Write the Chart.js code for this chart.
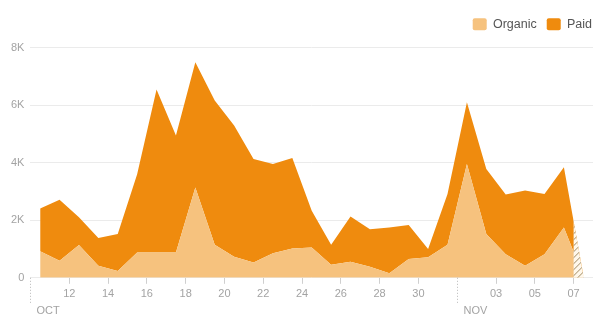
<!DOCTYPE html>
<html>
<head>
<meta charset="utf-8">
<script src="https://cdn.jsdelivr.net/npm/chart.js@4/dist/chart.umd.min.js"></script>
<style>
  html, body { margin: 0; padding: 0; background: #fff; }
  #wrap { width: 606px; height: 333px; position: relative; }
</style>
</head>
<body>
<div id="wrap"><canvas id="chart"></canvas></div>
<script>
// Daily values, Oct 10 .. Nov 7 (one point per day, drawn at mid-day)
const days = ['10','11','12','13','14','15','16','17','18','19','20','21','22','23','24','25','26','27','28','29','30','31',
              '01','02','03','04','05','06','07'];
const organic = [920, 590, 1140, 420, 240, 880, 880, 880, 3140, 1150, 730, 530, 850, 1020, 1050, 450, 560, 380, 160, 650, 710, 1150,
                 3950, 1520, 820, 420, 820, 1750, 50];
const paid = [1490, 2120, 960, 960, 1280, 2720, 5660, 4060, 4350, 5010, 4560, 3600, 3100, 3140, 1280, 700, 1570, 1310, 1590, 1180, 290, 1760,
              2150, 2260, 2070, 2610, 2090, 2090, 50];

// axis ticks (day offsets from Oct 10) and their labels
const xTicks = [2, 4, 6, 8, 10, 12, 14, 16, 18, 20, 24, 26, 28];
const xTickLabels = ['12', '14', '16', '18', '20', '22', '24', '26', '28', '30', '03', '05', '07'];
const months = ['OCT', 'NOV'];
const monthStarts = [0, 22];
const yTicks = [0, 2000, 4000, 6000, 8000];
const yTickLabels = ['0', '2K', '4K', '6K', '8K'];
const partialFrom = 28; // last day is incomplete (hatched)

const ORGANIC = '#f6c27e';
const PAID = '#ef8b0e';
const TICK = '#a3a3a3';
const FONT = '"Liberation Sans", Arial, sans-serif';

const toPoints = arr => arr.map((v, i) => ({ x: i + 0.5, y: v }));

// extra room under the legend
const legendGap = {
    id: 'legendGap',
    beforeInit(chart) {
        const fit = chart.legend.fit;
        chart.legend.fit = function () {
            fit.call(this);
            this.height += 7;
        };
    }
};

// dotted month separators + month names under the day labels
const monthPlugin = {
    id: 'months',
    afterDraw(chart) {
        const { ctx, scales: { x, y } } = chart;
        const base = y.getPixelForValue(0);
        ctx.save();
        ctx.strokeStyle = '#b8b8b8';
        ctx.lineWidth = 1;
        ctx.setLineDash([1, 2]);
        ctx.font = '11px ' + FONT;
        ctx.fillStyle = TICK;
        ctx.textAlign = 'left';
        ctx.textBaseline = 'middle';
        monthStarts.forEach((d, i) => {
            const px = Math.round(x.getPixelForValue(d)) + 0.5;
            ctx.beginPath();
            ctx.moveTo(px, base);
            ctx.lineTo(px, base + 26);
            ctx.stroke();
            ctx.fillText(months[i], px + 6, base + 33);
        });
        ctx.restore();
    }
};

// hatched area for the incomplete last day
const hatchPlugin = {
    id: 'hatch',
    afterDatasetsDraw(chart) {
        const { ctx, chartArea, scales: { x, y } } = chart;
        const pts = chart.getDatasetMeta(1).data;
        const n = pts.length;
        const p0 = pts[n - 2], p1 = pts[n - 1];
        const xs = x.getPixelForValue(partialFrom);
        const base = y.getPixelForValue(0);
        ctx.save();
        ctx.beginPath();
        ctx.rect(xs, chartArea.top, chartArea.right - xs, base - chartArea.top);
        ctx.clip();
        ctx.beginPath();
        ctx.moveTo(p0.x, p0.y);
        ctx.lineTo(p1.x, p1.y);
        ctx.lineTo(p1.x, base);
        ctx.lineTo(p0.x, base);
        ctx.closePath();
        ctx.fillStyle = '#fff8ec';
        ctx.fill();
        ctx.clip();
        ctx.strokeStyle = '#a08a62';
        ctx.lineWidth = 1;
        ctx.beginPath();
        for (let k = base + 30; k > chartArea.top; k -= 6) {
            ctx.moveTo(xs - 2, k);
            ctx.lineTo(xs + 30, k - 32);
        }
        ctx.stroke();
        ctx.restore();
    }
};

new Chart(document.getElementById('chart'), {
    type: 'line',
    data: {
        datasets: [
            {
                label: 'Organic',
                data: toPoints(organic),
                backgroundColor: ORGANIC,
                borderColor: ORGANIC,
                borderWidth: 0,
                pointRadius: 0,
                fill: 'origin',
                tension: 0
            },
            {
                label: 'Paid',
                data: toPoints(paid),
                backgroundColor: PAID,
                borderColor: PAID,
                borderWidth: 0,
                pointRadius: 0,
                fill: '-1',
                tension: 0
            }
        ]
    },
    options: {
        responsive: true,
        maintainAspectRatio: false,
        animation: false,
        layout: { padding: { left: 5, right: 4, top: 8, bottom: 28 } },
        plugins: {
            legend: {
                position: 'top',
                align: 'end',
                labels: {
                    color: '#555',
                    boxWidth: 14,
                    boxHeight: 12,
                    useBorderRadius: true,
                    borderRadius: 2,
                    padding: 10,
                    font: { family: FONT, size: 12.5 }
                }
            },
            tooltip: { enabled: false }
        },
        scales: {
            x: {
                type: 'linear',
                min: 0,
                max: days.length,
                afterBuildTicks: scale => { scale.ticks = xTicks.map(v => ({ value: v })); },
                grid: { drawOnChartArea: false, drawTicks: true, tickLength: 6, color: '#cfcfcf' },
                border: { display: false },
                ticks: {
                    color: TICK,
                    padding: 4,
                    maxRotation: 0,
                    autoSkip: false,
                    font: { family: FONT, size: 11 },
                    callback: (v, i) => xTickLabels[i]
                }
            },
            y: {
                stacked: true,
                min: 0,
                max: 8000,
                afterBuildTicks: scale => { scale.ticks = yTicks.map(v => ({ value: v })); },
                grid: { color: '#ebebeb', drawTicks: false },
                border: { display: false },
                ticks: {
                    color: TICK,
                    padding: 6,
                    font: { family: FONT, size: 11 },
                    callback: (v, i) => yTickLabels[i]
                }
            },
            // empty spacer on the right so the plot ends where the legend ends
            spacer: {
                position: 'right',
                display: true,
                grid: { display: false },
                border: { display: false },
                ticks: { display: false },
                afterFit: scale => { scale.width = 9; }
            }
        }
    },
    plugins: [legendGap, hatchPlugin, monthPlugin]
});
</script>
</body>
</html>
